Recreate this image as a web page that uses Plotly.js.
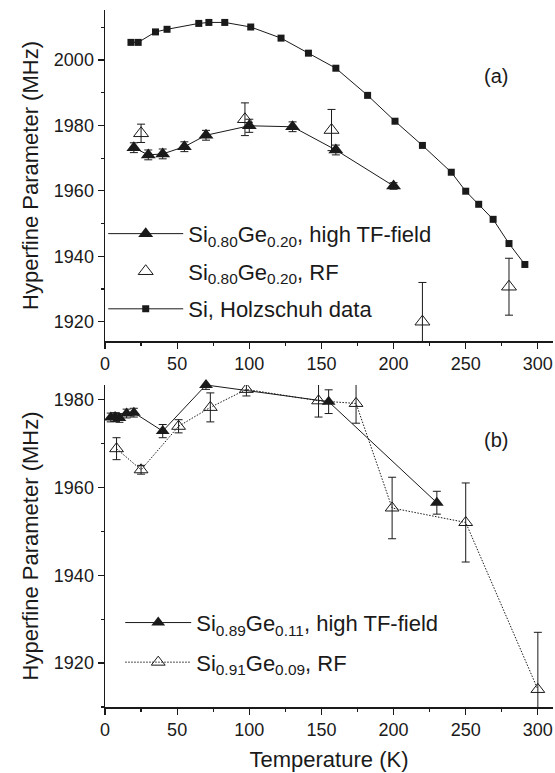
<!DOCTYPE html>
<html>
<head>
<meta charset="utf-8">
<script src="https://cdn.plot.ly/plotly-3.0.1.min.js"></script>
<style>html,body{margin:0;padding:0;background:#fff;}#chart{width:555px;height:773px;}</style>
</head>
<body>
<div id="chart"></div>
<script>
// ---- Panel (a) data ----
const holzT  = [18, 23, 35, 43, 65, 72, 83, 101, 122, 141, 160, 182, 201, 220, 240, 250, 259, 269, 280, 291];
const holzHF = [2005.4, 2005.4, 2008.6, 2009.4, 2011.2, 2011.5, 2011.5, 2010.1, 2006.7, 2002.1, 1997.5, 1989.2, 1981.3, 1973.9, 1965.7, 1959.9, 1955.9, 1951.3, 1943.9, 1937.5];

const a_tfT   = [20, 30, 40, 55, 70, 100, 130, 160, 200];
const a_tfHF  = [1973.2, 1971.0, 1971.3, 1973.5, 1977.0, 1979.9, 1979.6, 1972.5, 1961.5];
const a_tfErr = [1.5, 1.5, 1.5, 1.5, 1.5, 2.0, 1.5, 1.5, 1.0];

const a_rfT   = [25, 97, 157, 220, 280];
const a_rfHF  = [1977.6, 1981.9, 1978.6, 1920.0, 1930.7];
const a_rfErr = [2.8, 5.0, 6.3, 12.0, 8.7];

// ---- Panel (b) data ----
const b_tfT   = [4, 7, 10, 15, 20, 40, 70, 155, 230];
const b_tfHF  = [1975.9, 1976.0, 1975.8, 1976.8, 1977.0, 1972.8, 1983.3, 1979.5, 1956.5];
const b_tfErr = [1.0, 1.0, 1.0, 1.0, 1.0, 1.5, 1.0, 2.7, 2.6];

const b_rfT   = [8, 25, 51, 73, 98, 148, 174, 199, 250, 300];
const b_rfHF  = [1968.8, 1964.0, 1973.9, 1978.2, 1982.3, 1979.7, 1979.1, 1955.3, 1952.0, 1914.0];
const b_rfErr = [2.5, 1.0, 1.5, 3.3, 1.5, 3.7, 4.5, 7.0, 9.0, 13.0];

// ---- Labels ----
const namesA = ["Si<sub>0.80</sub>Ge<sub>0.20</sub>, high TF-field", "Si<sub>0.80</sub>Ge<sub>0.20</sub>, RF", "Si, Holzschuh data"];
const namesB = ["Si<sub>0.89</sub>Ge<sub>0.11</sub>, high TF-field", "Si<sub>0.91</sub>Ge<sub>0.09</sub>, RF"];
const xTitle = "Temperature (K)";
const yTitle = "Hyperfine Parameter (MHz)";

const FONT = "Liberation Sans, Arial, Helvetica, sans-serif";
const ink = "#1a1a1a";
const errStyle = (arr) => ({type: "data", array: arr, visible: true, color: ink, thickness: 1, width: 4});

const traces = [
  {x: a_tfT, y: a_tfHF, error_y: errStyle(a_tfErr), name: namesA[0], xaxis: "x", yaxis: "y",
   mode: "lines+markers", line: {color: ink, width: 1},
   marker: {symbol: "triangle-up", size: 13, color: ink}, legend: "legend", legendgroup: "a1"},
  {x: a_rfT, y: a_rfHF, error_y: errStyle(a_rfErr), name: namesA[1], xaxis: "x", yaxis: "y",
   mode: "markers",
   marker: {symbol: "triangle-up-open", size: 13, color: ink, line: {width: 1, color: ink}}, legend: "legend", legendgroup: "a2"},
  {x: holzT, y: holzHF, name: namesA[2], xaxis: "x", yaxis: "y",
   mode: "lines+markers", line: {color: ink, width: 1},
   marker: {symbol: "square", size: 7, color: ink}, legend: "legend", legendgroup: "a3"},
  {x: b_tfT, y: b_tfHF, error_y: errStyle(b_tfErr), name: namesB[0], xaxis: "x2", yaxis: "y2",
   mode: "lines+markers", line: {color: ink, width: 1}, cliponaxis: false,
   marker: {symbol: "triangle-up", size: 12, color: ink}, legend: "legend2", legendgroup: "b1"},
  {x: b_rfT, y: b_rfHF, error_y: errStyle(b_rfErr), name: namesB[1], xaxis: "x2", yaxis: "y2",
   mode: "lines+markers", line: {color: ink, width: 1, dash: "1.5px,1.5px"},
   marker: {symbol: "triangle-up-open", size: 12, color: ink, line: {width: 1, color: ink}}, legend: "legend2", legendgroup: "b2"}
];

const xAxisBase = {
  range: [0, 310.5], showline: true, linecolor: ink, linewidth: 1.5, mirror: false,
  ticks: "outside", ticklen: 6, tickwidth: 1.2, tickcolor: ink, dtick: 50, tick0: 0,
  minor: {ticks: "outside", ticklen: 3, tickwidth: 1.2, tickcolor: ink, dtick: 25},
  showgrid: false, zeroline: false, tickfont: {family: FONT, size: 18, color: ink}
};
const yAxisBase = {
  showline: true, linecolor: ink, linewidth: 1.5, mirror: false,
  ticks: "outside", ticklen: 6, tickwidth: 1.2, tickcolor: ink, dtick: 20, tick0: 1920,
  minor: {ticks: "outside", ticklen: 3, tickwidth: 1.2, tickcolor: ink, dtick: 10},
  showgrid: false, zeroline: false, tickfont: {family: FONT, size: 18, color: ink},
  title: {text: yTitle, font: {family: FONT, size: 22, color: ink}, standoff: 9}
};

const layout = {
  width: 555, height: 773,
  margin: {l: 105, r: 2, t: 10, b: 66},
  paper_bgcolor: "#fff", plot_bgcolor: "#fff",
  font: {family: FONT, color: ink},
  xaxis: Object.assign({}, xAxisBase, {anchor: "y", domain: [0, 1]}),
  yaxis: Object.assign({}, yAxisBase, {anchor: "x", domain: [0.5251, 1], range: [1914.1, 2015.3]}),
  xaxis2: Object.assign({}, xAxisBase, {anchor: "y2", domain: [0, 1],
    title: {text: xTitle, font: {family: FONT, size: 22, color: ink}, standoff: 12}}),
  yaxis2: Object.assign({}, yAxisBase, {anchor: "x2", domain: [0, 0.462], range: [1910, 1983.3]}),
  legend: {x: -0.004, y: 0.709, xanchor: "left", yanchor: "top", bgcolor: "rgba(0,0,0,0)",
    font: {family: FONT, size: 22, color: ink}, itemwidth: 75, tracegroupgap: 6, traceorder: "grouped"},
  legend2: {x: 0.034, y: 0.151, xanchor: "left", yanchor: "top", bgcolor: "rgba(0,0,0,0)",
    font: {family: FONT, size: 22, color: ink}, itemwidth: 66, tracegroupgap: 8, traceorder: "grouped"},
  annotations: [
    {text: "(a)", xref: "paper", yref: "paper", x: 0.904, y: 0.924, showarrow: false,
     font: {family: FONT, size: 20, color: ink}},
    {text: "(b)", xref: "paper", yref: "paper", x: 0.904, y: 0.383, showarrow: false,
     font: {family: FONT, size: 20, color: ink}}
  ],
  showlegend: true
};

Plotly.newPlot("chart", traces, layout, {displayModeBar: false, staticPlot: true});
</script>
</body>
</html>
